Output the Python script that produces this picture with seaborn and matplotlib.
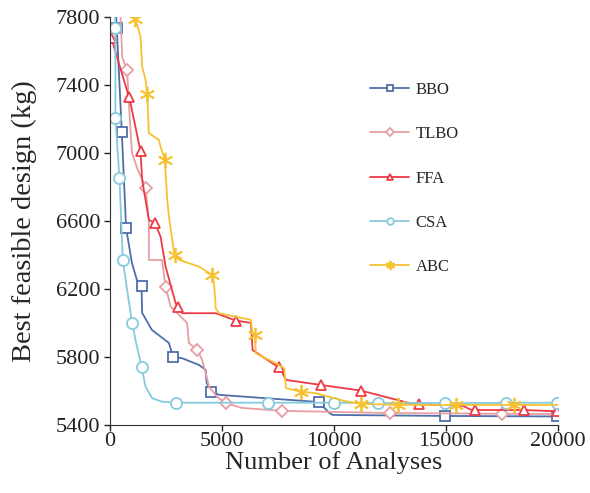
import seaborn as sns
import matplotlib.pyplot as plt
import pandas as pd
import numpy as np

# convergence histories
bbo_x = [290, 313, 537, 730, 990, 1210, 1417, 1446, 1880, 2640, 2818, 3235, 3980, 4280, 4320, 4534, 4880, 9321, 9800, 9940, 14944, 19970]
bbo_y = [7800, 7735, 7124, 6557, 6353, 6253, 6218, 6059, 5959, 5882, 5802, 5792, 5753, 5724, 5647, 5596, 5577, 5535, 5470, 5459, 5453, 5450]
bbo_mk = [1, 2, 3, 6, 10, 15, 17, 20, 21]

tlbo_x = [480, 560, 776, 850, 990, 1250, 1500, 1596, 1745, 1745, 2330, 2490, 2715, 3450, 3530, 3907, 4120, 4280, 4430, 4790, 5175, 5900, 7680, 12513, 17480, 19970]
tlbo_y = [7800, 7560, 7488, 7300, 7000, 6900, 6830, 6792, 6606, 6370, 6370, 6214, 6096, 6000, 5882, 5841, 5782, 5706, 5624, 5565, 5528, 5500, 5483, 5470, 5466, 5464]
tlbo_mk = [2, 7, 11, 15, 20, 22, 23, 24]

ffa_x = [75, 850, 925, 1372, 1446, 1745, 2013, 2267, 2490, 2940, 3057, 3235, 4728, 5623, 6300, 6370, 7400, 7562, 7860, 9426, 11215, 13380, 13795, 15760, 16100, 16286, 18478, 19970]
ffa_y = [7675, 7331, 7294, 7008, 6841, 6606, 6586, 6508, 6331, 6116, 6092, 6057, 6057, 6014, 6000, 5841, 5750, 5743, 5665, 5635, 5602, 5528, 5522, 5512, 5490, 5488, 5488, 5480]
ffa_mk = [0, 1, 3, 6, 10, 13, 17, 19, 20, 22, 25, 26, 27]

csa_x = [237, 253, 253, 434, 582, 775, 998, 1148, 1417, 1596, 1894, 2330, 2967, 7038, 10022, 11960, 14944, 17673, 19970]
csa_y = [7800, 7733, 7204, 6851, 6371, 6194, 6002, 5900, 5743, 5625, 5557, 5537, 5531, 5531, 5531, 5529, 5529, 5530, 5531]
csa_mk = [1, 2, 3, 4, 6, 8, 12, 13, 14, 15, 16, 17, 18]

abc_x = [1130, 1148, 1372, 1446, 1596, 1670, 1745, 2192, 2267, 2460, 2490, 2565, 2640, 2863, 2908, 3087, 3982, 4578, 4653, 4728, 4877, 6295, 6370, 6473, 6518, 7413, 7785, 7860, 8530, 9203, 10500, 11215, 12855, 15436, 18031, 19970]
abc_y = [7830, 7786, 7684, 7508, 7429, 7347, 7116, 7076, 7037, 6959, 6881, 6724, 6625, 6420, 6400, 6371, 6331, 6282, 6233, 6086, 6057, 6018, 5939, 5930, 5821, 5762, 5733, 5616, 5596, 5586, 5540, 5524, 5518, 5518, 5518, 5518]
abc_mk = [1, 5, 9, 14, 17, 23, 28, 31, 32, 33, 34]

names = ['BBO', 'TLBO', 'FFA', 'CSA', 'ABC']
xs = [bbo_x, tlbo_x, ffa_x, csa_x, abc_x]
ys = [bbo_y, tlbo_y, ffa_y, csa_y, abc_y]
mks = [bbo_mk, tlbo_mk, ffa_mk, csa_mk, abc_mk]
colors = ['#4f6ea8', '#e79ea4', '#ee3a46', '#86cbdd', '#f6c232']
markers = ['s', 'D', '^', 'o', (6, 2, 0)]
msizes = [7.5, 6.5, 7.5, 8, 11]

sns.set_style('ticks')
plt.rcParams['font.family'] = ['Liberation Serif', 'DejaVu Serif']

fig = plt.figure(figsize=(5.9, 4.93), dpi=100)
ax = fig.add_axes([0.186, 0.138, 0.76, 0.828])

for name, x, y, mk, c, m, ms in zip(names, xs, ys, mks, colors, markers, msizes):
    sns.lineplot(x=x, y=y, ax=ax, estimator=None, sort=False, color=c, lw=1.3,
                 marker=m, markersize=ms, markevery=mk, markerfacecolor='white',
                 markeredgecolor=c, markeredgewidth=1.3, label=name)

ax.set_xlim(0, 20000)
ax.set_ylim(5400, 7800)
ax.set_xticks([0, 5000, 10000, 15000, 20000])
ax.set_yticks(np.arange(5400, 7801, 400))
ax.tick_params(direction='out', length=4, width=1, labelsize=16, colors='#222222', pad=3)
ax.tick_params(axis='x', pad=1)
for s in ['left', 'bottom']:
    ax.spines[s].set_color('#333333')
sns.despine(ax=ax)
ax.set_xlabel('Number of Analyses', fontsize=19, labelpad=0)
ax.set_ylabel('Best feasible design (kg)', fontsize=20.5, labelpad=13)

ax.legend(loc='upper left', bbox_to_anchor=(0.547, 0.877), frameon=False,
          labelspacing=1.7, handlelength=2.35, handletextpad=0.4,
          markerscale=0.6, fontsize=12)

plt.savefig('out.png', dpi=100)
